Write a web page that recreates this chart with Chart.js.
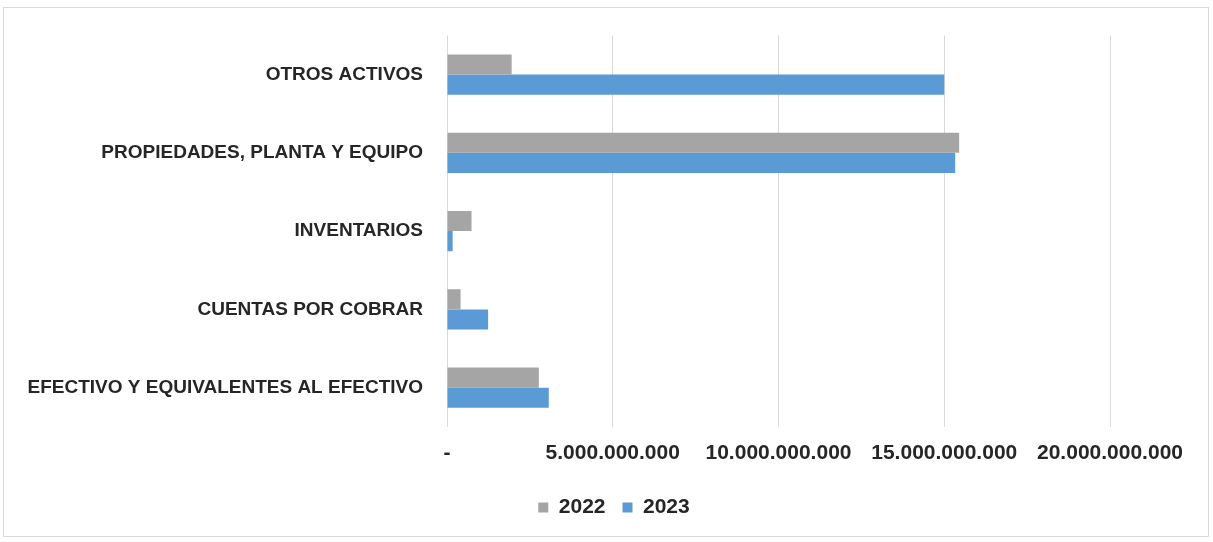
<!DOCTYPE html>
<html>
<head>
<meta charset="utf-8">
<script src="https://cdn.jsdelivr.net/npm/chart.js@4.4.1/dist/chart.umd.min.js"></script>
<style>
  html, body { margin: 0; padding: 0; background: #fff; }
  #wrap {
    position: absolute; left: 3px; top: 7px;
    width: 1206px; height: 530px;
    border: 1px solid #d9d9d9; box-sizing: border-box;
  }
</style>
</head>
<body>
<div id="wrap"><canvas id="activosChart"></canvas></div>
<script>
const categorias = [
  'OTROS ACTIVOS',
  'PROPIEDADES, PLANTA Y EQUIPO',
  'INVENTARIOS',
  'CUENTAS POR COBRAR',
  'EFECTIVO Y EQUIVALENTES AL EFECTIVO'
];
const valores2022 = [1950000000, 15450000000, 740000000, 410000000, 2770000000];
const valores2023 = [15000000000, 15330000000, 170000000, 1240000000, 3070000000];
const ejeMax = 20000000000;
const ejePaso = 5000000000;

function formatoMiles(v) {
  if (v === 0) return '-';
  return String(Math.round(v)).replace(/\B(?=(\d{3})+(?!\d))/g, '.');
}

const familia = "'Liberation Sans', Arial, sans-serif";

new Chart(document.getElementById('activosChart').getContext('2d'), {
  type: 'bar',
  data: {
    labels: categorias,
    datasets: [
      {
        label: '2022',
        data: valores2022,
        backgroundColor: '#a5a5a5',
        categoryPercentage: 0.515,
        barPercentage: 1.0
      },
      {
        label: '2023',
        data: valores2023,
        backgroundColor: '#5b9bd5',
        categoryPercentage: 0.515,
        barPercentage: 1.0
      }
    ]
  },
  options: {
    indexAxis: 'y',
    responsive: true,
    maintainAspectRatio: false,
    animation: false,
    layout: { padding: { top: 10, left: 16, right: 0, bottom: 8 } },
    scales: {
      x: {
        min: 0,
        max: ejeMax,
        border: { display: false },
        grid: { color: '#d9d9d9', drawTicks: false },
        ticks: {
          stepSize: ejePaso,
          color: '#262626',
          font: { family: familia, size: 21, weight: 'bold' },
          padding: 14,
          callback: (v) => formatoMiles(v)
        },
        // deja hueco a la derecha sin descentrar la leyenda
        afterFit: (scale) => { scale.paddingRight = 98; }
      },
      y: {
        border: { display: false },
        grid: { display: false },
        ticks: { color: '#262626', font: { family: familia, size: 19, weight: 'bold' }, padding: 16 },
        afterFit: (scale) => { scale.width = 427; }
      }
    },
    plugins: {
      legend: {
        position: 'bottom',
        labels: {
          color: '#262626',
          font: { family: familia, size: 21, weight: 'bold' },
          boxWidth: 10,
          boxHeight: 10,
          padding: 17
        }
      },
      tooltip: { enabled: false }
    }
  }
});
</script>
</body>
</html>
